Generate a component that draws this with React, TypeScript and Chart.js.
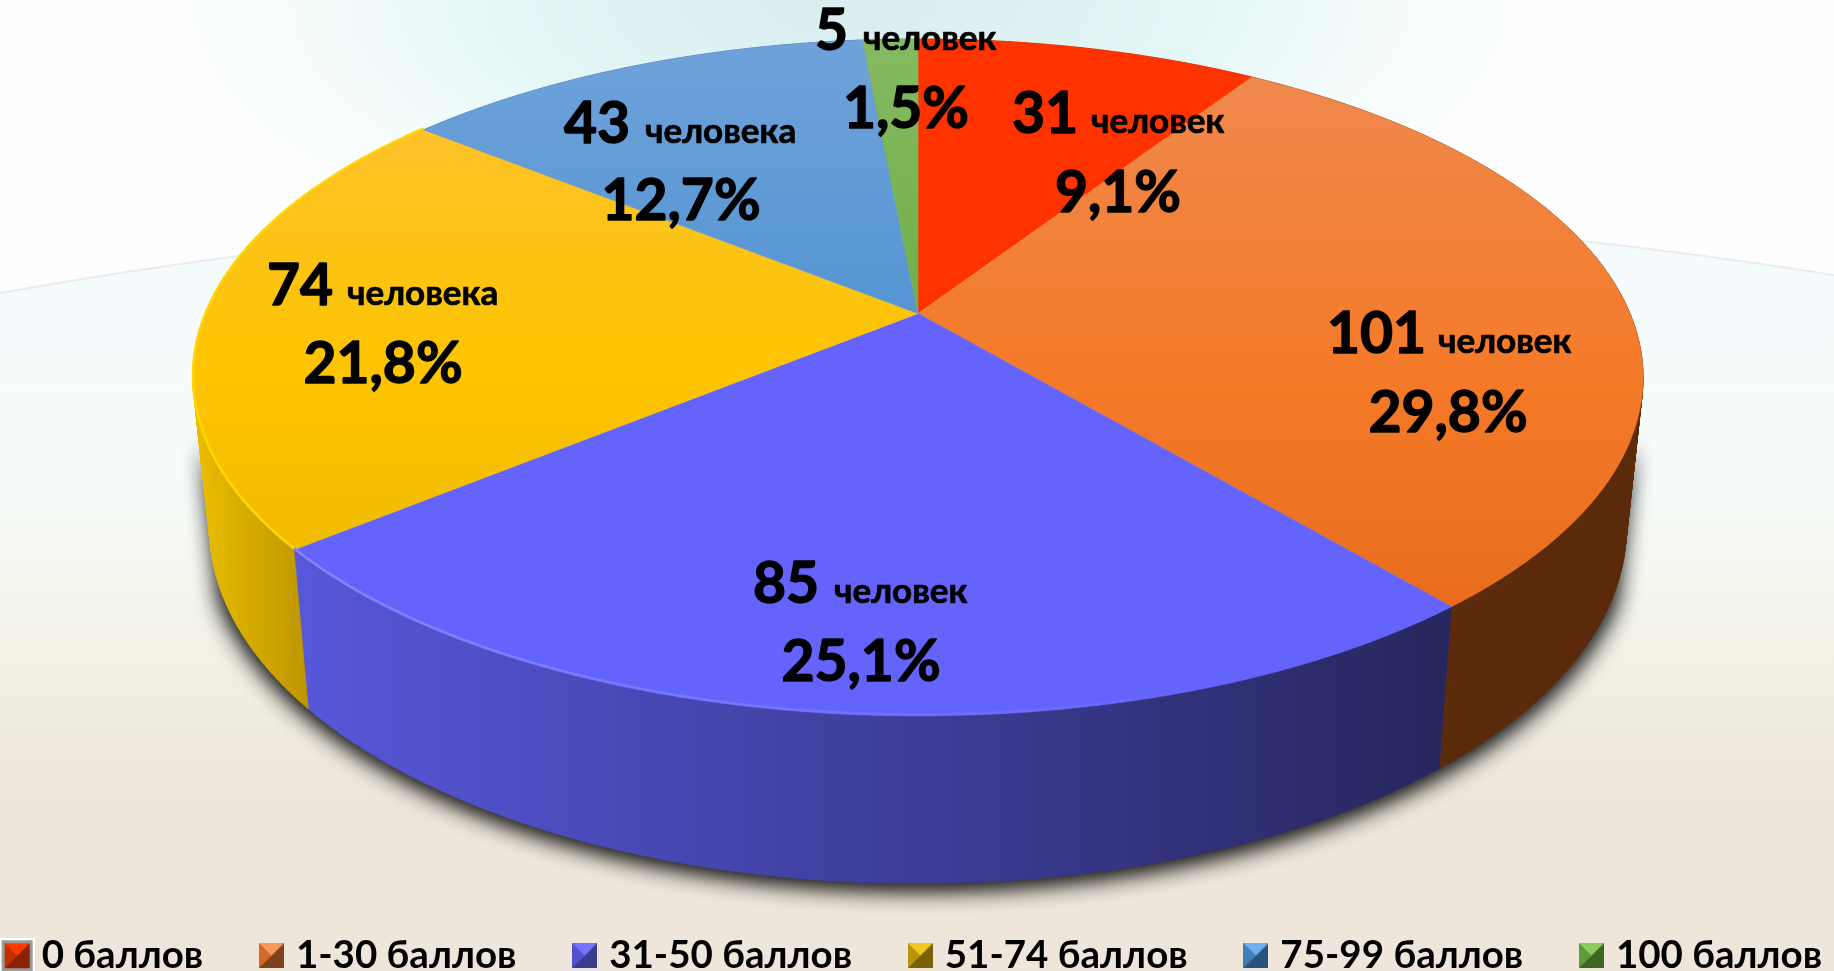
import React, { useEffect, useRef } from "react";
import { Chart, registerables } from "chart.js";

Chart.register(...registerables);

const categories = ["0 баллов", "1-30 баллов", "31-50 баллов", "51-74 баллов", "75-99 баллов", "100 баллов"];
const counts = [31, 101, 85, 74, 43, 5];
const percentLabels = ["9,1%", "29,8%", "25,1%", "21,8%", "12,7%", "1,5%"];
const unitWords = ["человек", "человек", "человек", "человека", "человека", "человек"];

const FONT = "Lato, 'Open Sans', sans-serif";

// Styling and layout (not data)
const topStops = [
  ["#ff3300", "#ff3300", "#ff3300"],
  ["#ef8a52", "#f47a28", "#e4661a"],
  ["#6464fc", "#6464fc", "#6464fc"],
  ["#fcc238", "#fdc400", "#e4b400"],
  ["#6fa2da", "#4f92d2", "#458ccf"],
  ["#85ba62", "#6cac40", "#62a838"],
];
const wallStops = [
  ["#a02800", "#a02800"],
  ["#5c2b0b", "#5a2a0a"],
  ["#5757da", "#27275f"],
  ["#eabc00", "#b89200"],
  ["#2f5f90", "#2f5f90"],
  ["#3f6e24", "#3f6e24"],
];
const wallRange = [
  [0, 1],
  [1400, 1650],
  [298, 1440],
  [200, 320],
  [0, 1],
  [0, 1],
];
const swatchColors = [
  ["#ff3a00", "#c43000", "#8a2400"],
  ["#fb9a58", "#d06a26", "#7e431c"],
  ["#7474ff", "#5252cc", "#3c3c8c"],
  ["#f0c820", "#b89410", "#7a6208"],
  ["#6eb0f0", "#3f80bc", "#28527c"],
  ["#8ccc60", "#5f9a3c", "#3f6724"],
];
// count x, word x, percent centre x, first baseline, second baseline
const labelLayout = [
  [1012, 1091, 1118, 133, 212],
  [1327, 1438, 1448, 353, 432],
  [753, 834, 861, 603, 681],
  [267, 347, 383, 305, 383],
  [564, 645, 681, 143, 220],
  [815, 863, 906, 50, 128],
];

const PERSP = -0.189;
const TOP = { x: 918, y: 313.5, bx: 712, ay: 326.4 };
const BOTTOM = { x: 918, y: 460.6, bx: 695.6, ay: 343 };
const TOP_Y0 = 39;
const TOP_Y1 = 716;

function project(p: any, a: number) {
  const u = Math.cos(a);
  const v = Math.sin(a);
  const d = 1 + PERSP * v;
  return [p.x + (p.bx * u) / d, p.y + (p.ay * v) / d];
}

function arcPoints(p: any, a0: number, a1: number) {
  const n = Math.max(2, Math.ceil(Math.abs(a1 - a0) / 0.006));
  const pts: number[][] = [];
  for (let i = 0; i <= n; i++) pts.push(project(p, a0 + ((a1 - a0) * i) / n));
  return pts;
}

function tracePts(ctx: CanvasRenderingContext2D, pts: number[][], first: boolean) {
  pts.forEach((q, i) => {
    if (i === 0 && first) ctx.moveTo(q[0], q[1]);
    else ctx.lineTo(q[0], q[1]);
  });
}

function traceWall(ctx: CanvasRenderingContext2D, a0: number, a1: number) {
  const up = arcPoints(TOP, a0, a1);
  const lo = arcPoints(BOTTOM, a0, a1);
  for (let i = 0; i < up.length - 1; i++) {
    ctx.moveTo(up[i][0], up[i][1]);
    ctx.lineTo(up[i + 1][0], up[i + 1][1]);
    ctx.lineTo(lo[i + 1][0], lo[i + 1][1]);
    ctx.lineTo(lo[i][0], lo[i][1]);
    ctx.closePath();
  }
}

function makeSwatch(c: string[], framed: boolean) {
  const pad = framed ? 5 : 0;
  const s = 25;
  const cv = document.createElement("canvas");
  cv.width = s + pad * 2;
  cv.height = s + pad * 2;
  const g = cv.getContext("2d")!;
  if (framed) {
    g.fillStyle = "#ffffff";
    g.fillRect(0, 0, cv.width, cv.height);
    g.fillStyle = "#9a9a9a";
    g.fillRect(2, 2, cv.width - 4, cv.height - 4);
  }
  const x0 = pad;
  const y0 = pad;
  const m = s / 2;
  const tri = (col: string, pts: number[][]) => {
    g.fillStyle = col;
    g.beginPath();
    g.moveTo(x0 + pts[0][0], y0 + pts[0][1]);
    g.lineTo(x0 + pts[1][0], y0 + pts[1][1]);
    g.lineTo(x0 + pts[2][0], y0 + pts[2][1]);
    g.closePath();
    g.fill();
  };
  g.fillStyle = c[2];
  g.fillRect(x0, y0, s, s);
  tri(c[1], [[0, 0], [m, m], [0, s]]);
  tri(c[0], [[0, 0], [s, 0], [m, m]]);
  return cv;
}

const backdrop = {
  id: "backdrop",
  beforeDraw(chart: any) {
    const { ctx, width, height } = chart;
    ctx.save();
    const base = ctx.createLinearGradient(0, 250, 0, height);
    base.addColorStop(0, "#f5fbfd");
    base.addColorStop(0.32, "#f7fcfa");
    base.addColorStop(0.55, "#f3f1e6");
    base.addColorStop(0.76, "#eee6da");
    base.addColorStop(1, "#eee6da");
    ctx.fillStyle = base;
    ctx.fillRect(0, 0, width, height);

    ctx.beginPath();
    ctx.moveTo(0, 0);
    ctx.lineTo(0, 293);
    ctx.quadraticCurveTo(917, 130, width, 275);
    ctx.lineTo(width, 0);
    ctx.closePath();
    ctx.fillStyle = "#fefefe";
    ctx.fill();
    ctx.save();
    ctx.clip();
    ctx.translate(850, 0);
    ctx.scale(1, 0.42);
    const rad = ctx.createRadialGradient(0, 0, 0, 0, 0, 800);
    rad.addColorStop(0, "rgba(217,236,238,1)");
    rad.addColorStop(0.45, "rgba(228,247,247,1)");
    rad.addColorStop(1, "rgba(254,254,254,0)");
    ctx.fillStyle = rad;
    ctx.fillRect(-900, 0, 1900, 900);
    ctx.restore();

    ctx.beginPath();
    ctx.moveTo(0, 293);
    ctx.quadraticCurveTo(917, 130, width, 275);
    ctx.strokeStyle = "rgba(225,225,225,0.6)";
    ctx.lineWidth = 2;
    ctx.stroke();
    ctx.restore();
  },
};

const pie3d = {
  id: "pie3d",
  afterLayout(chart: any) {
    const legend = chart.legend;
    if (legend) {
      const shift = 14;
      legend.top += shift;
      legend.bottom += shift;
    }
  },
  beforeDatasetsDraw(chart: any) {
    const { ctx } = chart;
    const arcs = chart.getDatasetMeta(0).data;
    ctx.save();

    // shadow under the solid: only the front of the wall casts it
    for (let pass = 0; pass < 2; pass++) {
      ctx.save();
      ctx.shadowColor = "rgba(20,20,20,0.95)";
      ctx.shadowBlur = 24;
      ctx.shadowOffsetY = 3;
      ctx.fillStyle = "#444";
      ctx.beginPath();
      traceWall(ctx, 0.38, Math.PI - 0.38);
      ctx.fill();
      ctx.restore();
    }

    // walls
    arcs.forEach((el: any, i: number) => {
      const g = ctx.createLinearGradient(wallRange[i][0], 0, wallRange[i][1], 0);
      g.addColorStop(0, wallStops[i][0]);
      g.addColorStop(1, wallStops[i][1]);
      ctx.fillStyle = g;
      ctx.strokeStyle = g;
      ctx.lineWidth = 0.6;
      ctx.beginPath();
      traceWall(ctx, el.startAngle, el.endAngle);
      ctx.fill();
      ctx.stroke();
    });

    // top faces
    arcs.forEach((el: any, i: number) => {
      const pts = arcPoints(TOP, el.startAngle, el.endAngle);
      const g = ctx.createLinearGradient(0, TOP_Y0, 0, TOP_Y1);
      g.addColorStop(0, topStops[i][0]);
      g.addColorStop(0.5, topStops[i][1]);
      g.addColorStop(1, topStops[i][2]);
      ctx.fillStyle = g;
      ctx.strokeStyle = g;
      ctx.lineWidth = 0.6;
      ctx.beginPath();
      ctx.moveTo(TOP.x, TOP.y);
      tracePts(ctx, pts, false);
      ctx.closePath();
      ctx.fill();
      ctx.stroke();
    });

    // bright rim along the front-left edge
    const rim = (i: number, color: string, fadeTo: string, x0: number, x1: number) => {
      const el = arcs[i];
      const pts = arcPoints(TOP, el.startAngle, el.endAngle).map((q) => [q[0], q[1] - 1.5]);
      const g = ctx.createLinearGradient(x0, 0, x1, 0);
      g.addColorStop(0, color);
      g.addColorStop(1, fadeTo);
      ctx.strokeStyle = g;
      ctx.lineWidth = 2.5;
      ctx.beginPath();
      tracePts(ctx, pts, true);
      ctx.stroke();
    };
    rim(2, "rgba(132,132,255,1)", "rgba(132,132,255,0)", 300, 1250);
    rim(3, "rgba(255,214,0,1)", "rgba(255,214,0,1)", 190, 300);

    ctx.restore();
    return false;
  },
  afterDraw(chart: any) {
    const { ctx } = chart;
    ctx.save();
    ctx.fillStyle = "#000";
    ctx.strokeStyle = "#000";
    ctx.lineJoin = "round";
    ctx.textBaseline = "alphabetic";
    const put = (t: string, x: number, y: number, w: number) => {
      ctx.lineWidth = w;
      ctx.strokeText(t, x, y);
      ctx.fillText(t, x, y);
    };
    counts.forEach((n, i) => {
      const [cx, wx, px, y1, y2] = labelLayout[i];
      ctx.textAlign = "left";
      ctx.font = `bold 57px ${FONT}`;
      put(String(n), cx, y1, 1.4);
      ctx.font = `bold 35px ${FONT}`;
      put(unitWords[i], wx, y1, 0.7);
      ctx.textAlign = "center";
      ctx.font = `bold 57px ${FONT}`;
      put(percentLabels[i], px, y2, 1.4);
    });
    ctx.restore();
  },
};

export default function App() {
  const ref = useRef<HTMLCanvasElement>(null);
  useEffect(() => {
    document.body.style.margin = "0";
    const swatches = swatchColors.map((c, i) => makeSwatch(c, i === 0));
    const chart = new Chart(ref.current!, {
      type: "pie",
      data: {
        labels: categories,
        datasets: [{ data: counts, backgroundColor: topStops.map((s) => s[1]), borderWidth: 0 }],
      },
      plugins: [backdrop, pie3d],
      options: {
        responsive: false,
        animation: false,
        rotation: 0,
        layout: { padding: { left: -140, right: -140 } },
        plugins: {
          tooltip: { enabled: false },
          legend: {
            position: "bottom",
            labels: {
              usePointStyle: true,
              boxWidth: 10.5,
              boxHeight: 25,
              padding: 63,
              color: "#000",
              font: { family: FONT, weight: "bold", size: 38.5 },
              generateLabels: () =>
                categories.map((text, i) => ({
                  text,
                  pointStyle: swatches[i],
                  fillStyle: topStops[i][1],
                  strokeStyle: topStops[i][1],
                  lineWidth: 0,
                  hidden: false,
                  index: i,
                  fontColor: "#000",
                })),
            },
          },
        },
      } as any,
    });
    return () => chart.destroy();
  }, []);
  return <canvas ref={ref} width={1834} height={971} style={{ display: "block" }} />;
}
